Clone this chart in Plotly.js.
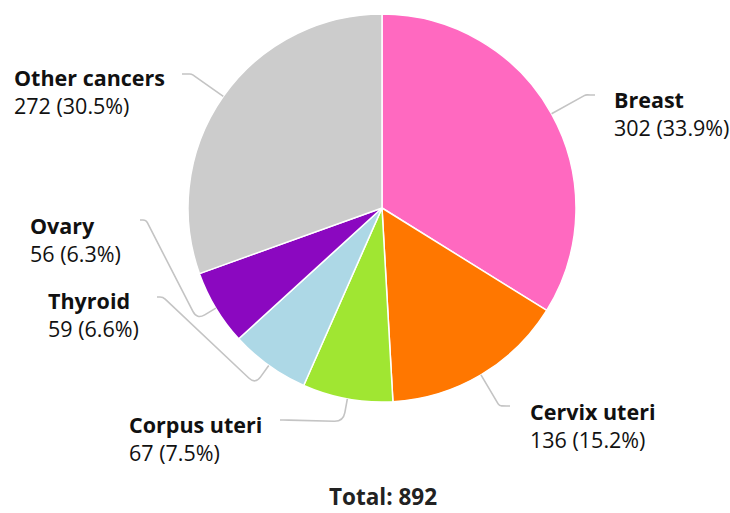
<!DOCTYPE html>
<html><head><meta charset="utf-8">
<script src="https://cdn.plot.ly/plotly-3.0.1.min.js"></script>
<style>body{margin:0;background:#fff}</style>
</head><body><div id="chart" style="width:730px;height:513px"></div>
<script>
const categories = ["Breast", "Cervix uteri", "Corpus uteri", "Thyroid", "Ovary", "Other cancers"];
const counts = [302, 136, 67, 59, 56, 272];
const colors = ["#ff69c0", "#ff7700", "#a0e632", "#add8e6", "#8b08c0", "#cccccc"];
const totalPrefix = "Total: ";

const W = 730, H = 513, CX = 382, CY = 208, R = 194;
const FS = 21.5, FS_TOTAL = 22.5;
// label placement (pixels): text left x, first-line baseline, elbow radius, leader end point
const labelPlace = [
  {tx: 614, base: 107, elbowR: 233, ex: 595, ey: 95, side: 1},
  {tx: 530, base: 419, elbowR: 230, ex: 510, ey: 406, side: 1},
  {tx: 129, base: 432, elbowR: 217, ex: 280, ey: 420, side: -1},
  {tx: 48,  base: 308, elbowR: 217, ex: 157, ey: 297, side: -1},
  {tx: 30,  base: 233, elbowR: 216, ex: 140, ey: 220, side: -1},
  {tx: 14,  base: 86,  elbowR: 233, ex: 182, ey: 74,  side: -1}
];

const total = counts.reduce((a, b) => a + b, 0);
const px = x => x / W;
const py = y => 1 - y / H;

function roundedPath(pts, rad) {
  let d = `M${px(pts[0][0])},${py(pts[0][1])}`;
  for (let i = 1; i < pts.length - 1; i++) {
    const [x0, y0] = pts[i - 1], [x1, y1] = pts[i], [x2, y2] = pts[i + 1];
    const l1 = Math.hypot(x1 - x0, y1 - y0), l2 = Math.hypot(x2 - x1, y2 - y1);
    const r = Math.min(rad, l1 / 2, l2 / 2);
    const ax = x1 - (x1 - x0) / l1 * r, ay = y1 - (y1 - y0) / l1 * r;
    const bx = x1 + (x2 - x1) / l2 * r, by = y1 + (y2 - y1) / l2 * r;
    d += ` L${px(ax)},${py(ay)} Q${px(x1)},${py(y1)} ${px(bx)},${py(by)}`;
  }
  const last = pts[pts.length - 1];
  d += ` L${px(last[0])},${py(last[1])}`;
  return d;
}

const shapes = [], annotations = [];
let cum = 0;
counts.forEach((v, i) => {
  const mid = (cum + v / 2) / total * 2 * Math.PI;
  cum += v;
  const L = labelPlace[i];
  const sx = Math.sin(mid), sy = -Math.cos(mid);
  const p0 = [CX + R * sx, CY + R * sy];
  const p1 = [CX + L.elbowR * sx, CY + L.elbowR * sy];
  const p2 = [L.ex - L.side * 6, L.ey];
  const p3 = [L.ex, L.ey];
  shapes.push({type: 'path', xref: 'paper', yref: 'paper', path: roundedPath([p0, p1, p2, p3], 9),
    line: {color: '#c4c4c4', width: 1.6}});
  const pct = (v / total * 100).toFixed(1);
  annotations.push({xref: 'paper', yref: 'paper', x: px(L.tx - 2), y: py(L.base - FS - 3),
    xanchor: 'left', yanchor: 'top', align: 'left', showarrow: false,
    text: `<b>${categories[i]}</b><br>${v} (${pct}%)`,
    font: {family: 'Open Sans', size: FS, color: '#111111'}});
});
annotations.push({xref: 'paper', yref: 'paper', x: px(383), y: 0,
  xanchor: 'center', yanchor: 'bottom', showarrow: false, borderpad: 0,
  text: `<b>${totalPrefix}${total}</b>`, font: {family: 'Open Sans', size: FS_TOTAL, color: '#222222'}});

const data = [{
  type: 'pie', labels: categories, values: counts, sort: false, direction: 'clockwise',
  rotation: 0, textinfo: 'none', hoverinfo: 'label+value+percent',
  marker: {colors: colors, line: {color: '#ffffff', width: 1.5}},
  domain: {x: [(CX - R) / W, (CX + R) / W], y: [1 - (CY + R) / H, 1 - (CY - R) / H]},
  showlegend: false
}];
const layout = {width: W, height: H, margin: {l: 0, r: 0, t: 0, b: 0},
  paper_bgcolor: '#ffffff', shapes: shapes, annotations: annotations,
  font: {family: 'Open Sans'}};
Plotly.newPlot('chart', data, layout, {displayModeBar: false, staticPlot: true});
</script></body></html>
